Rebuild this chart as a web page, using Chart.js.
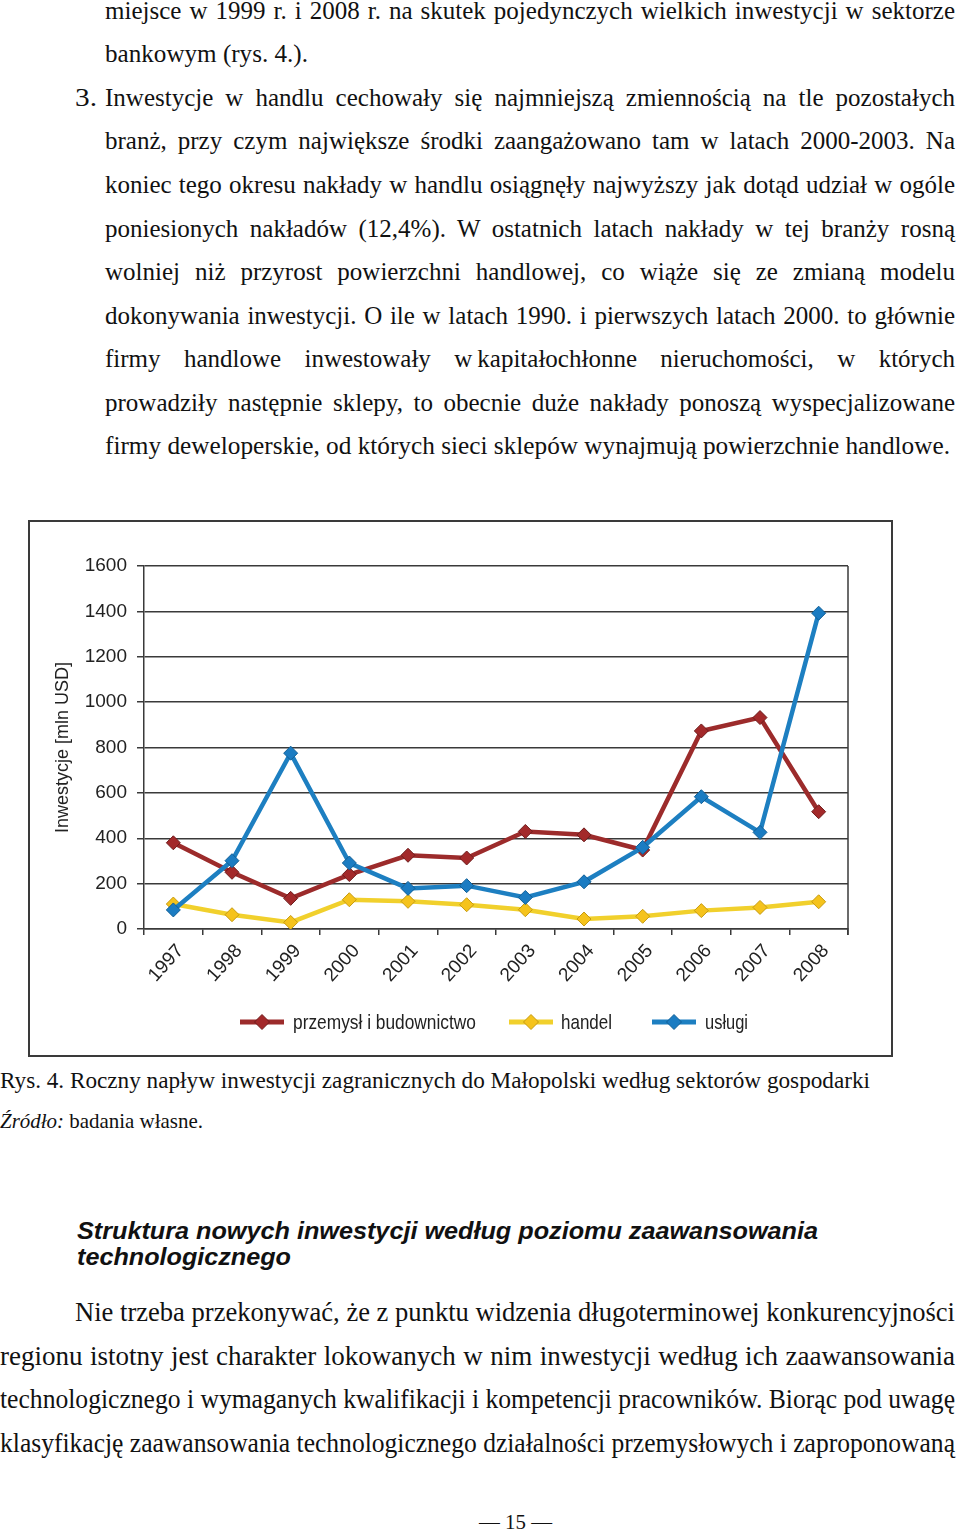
<!DOCTYPE html>
<html lang="pl">
<head>
<meta charset="utf-8">
<title>Rys. 4</title>
<script src="https://cdn.jsdelivr.net/npm/chart.js@4.4.1/dist/chart.umd.min.js"></script>
<style>
  html, body { margin: 0; padding: 0; background: #fff; }
  body { width: 960px; height: 1531px; position: relative; overflow: hidden; color: #111; }
  .ln { position: absolute; white-space: pre; line-height: 1; z-index: 2; }
  .ln > span { display: inline-block; white-space: pre; transform-origin: 0 0; }
  .serif { font-family: 'Liberation Serif', 'Times New Roman', serif; }
  .head { font-family: 'Liberation Sans', Arial, sans-serif; font-weight: bold; font-style: italic; }
  .sans { font-family: 'Liberation Sans', Arial, sans-serif; color: #222; }
  #chartBox { position: absolute; left: 28px; top: 520px; width: 861px; height: 533px; border: 2px solid #3a3a3a; background: #fff; }
  #chartBox canvas { position: absolute; left: 0; top: 0; }
  .icon { position: absolute; z-index: 2; }
</style>
</head>
<body>

<div id="page"></div>

<div id="chartBox">
  <canvas id="chart1" width="861" height="533"></canvas>
</div>

<script>
// Chart data
const years = ['1997', '1998', '1999', '2000', '2001', '2002', '2003', '2004', '2005', '2006', '2007', '2008'];
const przemysl = [380, 250, 135, 240, 325, 313, 430, 415, 348, 873, 932, 517];
const handel = [110, 63, 29, 129, 122, 107, 85, 44, 56, 81, 95, 120];
const uslugi = [84, 301, 775, 291, 179, 191, 139, 208, 360, 583, 426, 1392];
const yTickValues = [0, 200, 400, 600, 800, 1000, 1200, 1400, 1600];

const seriesNames = ['przemysł i budownictwo', 'handel', 'usługi'];
const seriesColors = ['#9c2b2b', '#f1d02c', '#1d7fc1'];
const pointColors = ['#a3292a', '#f5c31c', '#1b7cc2'];
const pointEdges = ['#6e1c1c', '#c69a10', '#115f96'];

// Page text, one entry per printed line: [text, left, baseline, width, fontSize, justify, cls]
const textLines = [
    ['miejsce w 1999 r. i 2008 r. na skutek pojedynczych wielkich inwestycji w sektorze', 105, 18.7, 850, 25, true, 'serif'],
    ['bankowym (rys. 4.).', 105, 62.3, 203, 25, false, 'serif'],
    ['3.', 75, 105.8, 22, 25, false, 'serif'],
    ['Inwestycje w handlu cechowały się najmniejszą zmiennością na tle pozostałych', 105, 105.8, 850, 25, true, 'serif'],
    ['branż, przy czym największe środki zaangażowano tam w latach 2000-2003. Na', 105, 149.4, 850, 25, true, 'serif'],
    ['koniec tego okresu nakłady w handlu osiągnęły najwyższy jak dotąd udział w ogóle', 105, 192.9, 850, 25, true, 'serif'],
    ['poniesionych nakładów (12,4%). W ostatnich latach nakłady w tej branży rosną', 105, 236.5, 850, 25, true, 'serif'],
    ['wolniej niż przyrost powierzchni handlowej, co wiąże się ze zmianą modelu', 105, 280.0, 850, 25, true, 'serif'],
    ['dokonywania inwestycji. O ile w latach 1990. i pierwszych latach 2000. to głównie', 105, 323.6, 850, 25, true, 'serif'],
    ['firmy handlowe inwestowały w\u2009kapitałochłonne nieruchomości, w których', 105, 367.1, 850, 25, true, 'serif'],
    ['prowadziły następnie sklepy, to obecnie duże nakłady ponoszą wyspecjalizowane', 105, 410.7, 850, 25, true, 'serif'],
    ['firmy deweloperskie, od których sieci sklepów wynajmują powierzchnie handlowe.', 105, 454.2, 845, 25, false, 'serif'],
    ['Rys. 4. Roczny napływ inwestycji zagranicznych do Małopolski według sektorów gospodarki', 0, 1088, 870, 23, false, 'serif'],
    ['Struktura nowych inwestycji według poziomu zaawansowania', 77, 1239, 741, 24, false, 'head'],
    ['technologicznego', 77, 1265, 214, 24, false, 'head'],
    ['Nie trzeba przekonywać, że z punktu widzenia długoterminowej konkurencyjności', 75, 1322, 880, 27, true, 'serif'],
    ['regionu istotny jest charakter lokowanych w nim inwestycji według ich zaawansowania', 0, 1366, 955, 27, true, 'serif'],
    ['technologicznego i wymaganych kwalifikacji i kompetencji pracowników. Biorąc pod uwagę', 0, 1409, 955, 27, true, 'serif'],
    ['klasyfikację zaawansowania technologicznego działalności przemysłowych i zaproponowaną', 0, 1453, 955, 27, true, 'serif'],
    ['— 15 —', 479, 1530, 73, 21, false, 'serif'],
    // legend labels
    ['przemysł i budownictwo', 293, 1029, 183, 21, false, 'sans'],
    ['handel', 561, 1029, 51, 21, false, 'sans'],
    ['usługi', 705, 1029, 43, 21, false, 'sans']
];

// legend symbols: left edge of each line+diamond symbol
const legendIconX = [240, 509, 652];
const legendIconY = 1022;

const page = document.getElementById('page');

function addLine(text, left, baseline, width, size, justify, cls, html) {
    const div = document.createElement('div');
    div.className = 'ln ' + cls;
    div.style.left = left + 'px';
    div.style.top = (baseline - 0.84 * size) + 'px';
    div.style.fontSize = size + 'px';
    div.dataset.w = width;
    div.dataset.j = justify ? '1' : '0';
    const span = document.createElement('span');
    if (html) span.innerHTML = html; else span.textContent = text;
    div.appendChild(span);
    page.appendChild(div);
}

textLines.forEach(l => addLine(...l));
// source line has an italic word
addLine('', 0, 1129, 203, 21, false, 'serif', '<i>Źródło:</i> badania własne.');

// stretch or squeeze each line to the width it has in print
function fitLines() {
    document.querySelectorAll('.ln').forEach(el => {
        const span = el.firstElementChild;
        const target = parseFloat(el.dataset.w);
        const w = span.getBoundingClientRect().width;
        const gaps = (span.textContent.match(/ /g) || []).length;
        if (el.dataset.j === '1' && w < target && gaps > 0) {
            span.style.wordSpacing = ((target - w) / gaps) + 'px';
        } else {
            span.style.transform = 'scaleX(' + (target / w) + ')';
        }
    });
}
fitLines();

// Legend symbols (line with a diamond, as in the original)
seriesNames.forEach((name, i) => {
    const svg = document.createElementNS('http://www.w3.org/2000/svg', 'svg');
    svg.setAttribute('class', 'icon');
    svg.setAttribute('width', '44');
    svg.setAttribute('height', '18');
    svg.style.left = legendIconX[i] + 'px';
    svg.style.top = (legendIconY - 9) + 'px';
    svg.innerHTML = `
        <line x1="0" y1="9" x2="44" y2="9" stroke="${seriesColors[i]}" stroke-width="5"/>
        <polygon points="22,1.5 29.5,9 22,16.5 14.5,9" fill="${pointColors[i]}" stroke="${pointEdges[i]}" stroke-width="1"/>`;
    page.appendChild(svg);
});

const chartFont = "'Liberation Sans', Arial, sans-serif";

// right edge of the plot frame
const frameRight = {
    id: 'frameRight',
    afterDatasetsDraw(chart) {
        const { ctx, chartArea } = chart;
        ctx.save();
        ctx.strokeStyle = '#3a3a3a';
        ctx.lineWidth = 1.5;
        ctx.beginPath();
        ctx.moveTo(chartArea.right, chartArea.top);
        ctx.lineTo(chartArea.right, chartArea.bottom + 6);
        ctx.stroke();
        ctx.restore();
    }
};

function makeDataset(label, data, i, order) {
    return {
        label: label,
        data: data,
        order: order,
        borderColor: seriesColors[i],
        backgroundColor: pointColors[i],
        borderWidth: 4.5,
        pointStyle: 'rectRot',
        pointRadius: 7,
        pointHoverRadius: 7,
        pointBackgroundColor: pointColors[i],
        pointBorderColor: pointEdges[i],
        pointBorderWidth: 1,
        tension: 0,
        fill: false
    };
}

new Chart(document.getElementById('chart1'), {
    type: 'line',
    data: {
        labels: years,
        datasets: [
            makeDataset(seriesNames[0], przemysl, 0, 1),
            makeDataset(seriesNames[1], handel, 1, 2),
            makeDataset(seriesNames[2], uslugi, 2, 0)
        ]
    },
    options: {
        responsive: false,
        animation: false,
        devicePixelRatio: 1,
        layout: { padding: { left: 22, right: 43, top: 44, bottom: 0 } },
        plugins: {
            legend: { display: false },
            tooltip: { enabled: false }
        },
        scales: {
            x: {
                offset: true,
                grid: { offset: true, drawOnChartArea: false, drawTicks: true, tickLength: 6, color: '#3a3a3a', lineWidth: 1.5 },
                border: { color: '#3a3a3a', width: 1.5 },
                ticks: {
                    color: '#222',
                    font: { family: chartFont, size: 19 },
                    maxRotation: 48,
                    minRotation: 48,
                    labelOffset: 7,
                    padding: 5
                },
                afterFit(scale) { scale.height = 126; }
            },
            y: {
                min: yTickValues[0],
                max: yTickValues[yTickValues.length - 1],
                afterBuildTicks(scale) { scale.ticks = yTickValues.map(v => ({ value: v })); },
                grid: { color: '#3a3a3a', lineWidth: 1.5, tickLength: 7 },
                border: { color: '#3a3a3a', width: 1.5 },
                ticks: {
                    color: '#222',
                    font: { family: chartFont, size: 19 },
                    padding: 10,
                    callback: v => String(v)
                },
                title: {
                    display: true,
                    text: 'Inwestycje [mln USD]',
                    color: '#222',
                    font: { family: chartFont, size: 18 },
                    padding: 0
                },
                afterFit(scale) { scale.width = 92; }
            }
        }
    },
    plugins: [frameRight]
});
</script>
</body>
</html>
